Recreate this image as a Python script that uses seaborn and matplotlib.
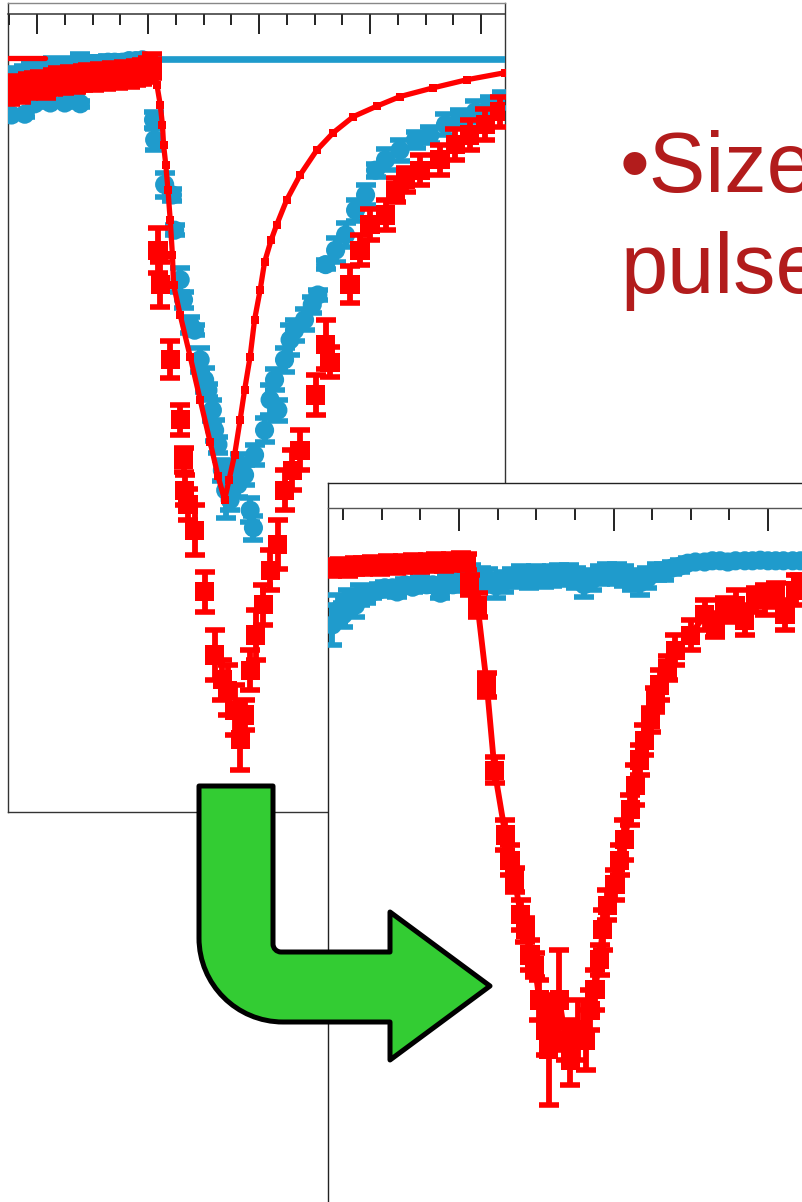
import matplotlib
matplotlib.use("Agg")
import matplotlib.pyplot as plt
import pandas as pd
import seaborn as sns
from matplotlib.patches import PathPatch
from matplotlib.path import Path
from matplotlib.ticker import MultipleLocator, NullLocator

W, H = 802, 1202
RED = "#ff0000"
BLUE = "#1f9bcc"
GREEN = "#33cc33"
TEXT_RED = "#b21c1c"

# ---- upper panel (delay in ps, normalised signal) ----
red1_pre_t = [-1.24, -1.19, -1.14, -1.08, -1.03, -0.97, -0.92, -0.86, -0.81, -0.76, -0.70, -0.65, -0.59,
              -0.54, -0.49, -0.43, -0.38, -0.32, -0.27, -0.22, -0.16, -0.11, -0.05, 0.00, 0.04]
red1_pre_s = [0.959, 0.964, 0.961, 0.966, 0.968, 0.969, 0.966, 0.971, 0.974, 0.973, 0.975, 0.974, 0.976,
              0.978, 0.976, 0.979, 0.978, 0.980, 0.979, 0.981, 0.980, 0.983, 0.984, 0.986, 0.991]
red1_pre_err = [0.015, 0.015, 0.015, 0.015, 0.015, 0.015, 0.015, 0.015, 0.015, 0.015, 0.015, 0.015, 0.015,
                0.015, 0.015, 0.015, 0.015, 0.015, 0.015, 0.015, 0.015, 0.015, 0.015, 0.015, 0.015]

red1_dip_t = [0.09, 0.11, 0.20, 0.29, 0.32, 0.33, 0.36, 0.42, 0.51, 0.60, 0.67, 0.72, 0.78, 0.83, 0.87,
              0.92, 0.97, 1.04, 1.10, 1.17, 1.23, 1.30, 1.37, 1.51, 1.60, 1.64, 1.82, 1.91, 2.00, 2.14,
              2.23, 2.32, 2.45, 2.63, 2.77, 2.90, 3.04, 3.17]
red1_dip_s = [0.761, 0.718, 0.624, 0.549, 0.499, 0.461, 0.443, 0.411, 0.334, 0.255, 0.224, 0.211, 0.186,
              0.149, 0.180, 0.236, 0.280, 0.318, 0.361, 0.393, 0.461, 0.486, 0.511, 0.580, 0.643, 0.621,
              0.718, 0.761, 0.793, 0.805, 0.836, 0.849, 0.861, 0.874, 0.893, 0.905, 0.918, 0.934]
red1_dip_err = [0.028, 0.028, 0.023, 0.019, 0.015, 0.019, 0.019, 0.031, 0.025, 0.031, 0.025, 0.031, 0.031,
                0.038, 0.019, 0.025, 0.031, 0.025, 0.025, 0.031, 0.025, 0.025, 0.025, 0.025, 0.031, 0.019,
                0.023, 0.019, 0.019, 0.019, 0.015, 0.015, 0.019, 0.019, 0.019, 0.019, 0.019, 0.019]

blue1_pre_t = [-1.24, -1.18, -1.12, -1.05, -0.99, -0.93, -0.86, -0.80, -0.74, -0.68, -0.61, -0.55, -0.49,
               -0.42, -0.36, -0.30, -0.23, -0.17, -0.11, -0.05,
               -1.23, -1.11, -1.02, -0.88, -0.75, -0.61, -0.72, -0.66]
blue1_pre_s = [0.974, 0.979, 0.981, 0.983, 0.984, 0.986, 0.988, 0.989, 0.990, 0.991, 0.993, 0.994, 0.994,
               0.995, 0.996, 0.996, 0.996, 0.998, 0.998, 0.999,
               0.930, 0.931, 0.944, 0.945, 0.945, 0.944, 0.961, 0.961]
blue1_pre_err = [0.013, 0.010, 0.010, 0.013, 0.010, 0.010, 0.013, 0.010, 0.010, 0.010, 0.013, 0.008, 0.008,
                 0.008, 0.008, 0.008, 0.008, 0.006, 0.006, 0.006,
                 0.004, 0.004, 0.004, 0.004, 0.004, 0.004, 0.004, 0.004]

blue1_dip_t = [0.05, 0.06, 0.15, 0.22, 0.24, 0.29, 0.32, 0.38, 0.42, 0.47, 0.51, 0.54, 0.58, 0.60, 0.63,
               0.67, 0.70, 0.74, 0.81, 0.87, 0.92, 0.95, 0.83, 0.96, 1.05, 1.10, 1.14, 1.17, 1.23, 1.28,
               1.32, 1.41, 1.48, 1.53, 1.60, 1.69, 1.78, 1.87, 1.96, 2.05, 2.14, 2.27, 2.41, 2.54, 2.68,
               2.81, 2.95, 3.08, 3.19]
blue1_dip_s = [0.924, 0.899, 0.843, 0.830, 0.786, 0.724, 0.699, 0.668, 0.661, 0.624, 0.599, 0.586, 0.561,
               0.536, 0.518, 0.486, 0.461, 0.449, 0.468, 0.480, 0.436, 0.414, 0.493, 0.505, 0.536, 0.574,
               0.599, 0.561, 0.624, 0.649, 0.661, 0.674, 0.693, 0.705, 0.743, 0.761, 0.780, 0.811, 0.830,
               0.861, 0.874, 0.886, 0.899, 0.905, 0.918, 0.926, 0.934, 0.943, 0.949]
blue1_dip_err = [0.010, 0.013, 0.015, 0.008, 0.006, 0.015, 0.010, 0.010, 0.006, 0.015, 0.015, 0.008, 0.013,
                 0.013, 0.010, 0.013, 0.035, 0.013, 0.015, 0.013, 0.015, 0.015, 0.013, 0.013, 0.015, 0.019,
                 0.013, 0.013, 0.015, 0.019, 0.013, 0.013, 0.010, 0.006, 0.006, 0.015, 0.015, 0.013, 0.013,
                 0.008, 0.013, 0.013, 0.010, 0.010, 0.013, 0.010, 0.013, 0.010, 0.010]

model1_t = [0.04, 0.08, 0.11, 0.13, 0.14, 0.16, 0.18, 0.20, 0.22, 0.23, 0.29, 0.38, 0.47, 0.56, 0.63, 0.69,
            0.73, 0.78, 0.83, 0.87, 0.92, 0.96, 1.01, 1.05, 1.11, 1.16, 1.25, 1.37, 1.52, 1.67, 1.85, 2.06,
            2.27, 2.57, 2.87, 3.22]
model1_s = [0.999, 0.968, 0.943, 0.918, 0.893, 0.868, 0.836, 0.799, 0.755, 0.718, 0.680, 0.628, 0.574,
            0.521, 0.479, 0.449, 0.474, 0.505, 0.549, 0.586, 0.628, 0.674, 0.711, 0.746, 0.774, 0.793,
            0.824, 0.855, 0.886, 0.908, 0.928, 0.941, 0.953, 0.964, 0.974, 0.983]

red1_ref_t = [-1.26, -0.93]
red1_ref_s = [1.001, 1.001]
blue1_ref_t = [-0.05, 3.22]
blue1_ref_s = [1.0, 1.0]

# ---- lower panel ----
red2_pre_t = [-0.82, -0.77, -0.72, -0.67, -0.62, -0.56, -0.51, -0.46, -0.41, -0.36, -0.30, -0.25, -0.20,
              -0.15, -0.10, -0.05, 0.01, 0.05]
red2_pre_s = [0.995, 0.997, 0.995, 0.998, 0.998, 1.000, 0.998, 1.002, 1.000, 1.002, 1.003, 1.002, 1.003,
              1.005, 1.003, 1.005, 1.007, 1.005]
red2_pre_err = [0.013, 0.013, 0.013, 0.013, 0.013, 0.013, 0.013, 0.013, 0.013, 0.013, 0.013, 0.013, 0.013,
                0.013, 0.013, 0.013, 0.013, 0.013]

red2_dip_t = [0.07, 0.12, 0.18, 0.23, 0.30, 0.33, 0.36, 0.40, 0.43, 0.46, 0.49, 0.52, 0.56, 0.58, 0.62,
              0.65, 0.69, 0.72, 0.77, 0.82, 0.85, 0.88, 0.91, 0.93, 0.96, 1.01, 1.04, 1.07, 1.11, 1.14,
              1.17, 1.20, 1.24, 1.27, 1.30, 1.35, 1.40, 1.50, 1.59, 1.66, 1.72, 1.79, 1.85, 1.92, 1.98,
              2.05, 2.11, 2.18, 2.21]
red2_dip_s = [0.967, 0.933, 0.800, 0.658, 0.550, 0.508, 0.475, 0.417, 0.392, 0.350, 0.333, 0.275, 0.225,
              0.192, 0.242, 0.275, 0.208, 0.175, 0.225, 0.208, 0.258, 0.292, 0.342, 0.392, 0.433, 0.467,
              0.508, 0.542, 0.592, 0.633, 0.675, 0.708, 0.742, 0.775, 0.800, 0.828, 0.858, 0.883, 0.917,
              0.900, 0.925, 0.933, 0.908, 0.942, 0.942, 0.950, 0.917, 0.958, 0.967]
red2_dip_err = [0.017, 0.020, 0.020, 0.022, 0.025, 0.025, 0.020, 0.025, 0.020, 0.025, 0.020, 0.033, 0.042,
                0.092, 0.033, 0.083, 0.033, 0.042, 0.050, 0.050, 0.033, 0.033, 0.025, 0.033, 0.025, 0.025,
                0.025, 0.033, 0.025, 0.033, 0.025, 0.025, 0.020, 0.020, 0.025, 0.020, 0.025, 0.025, 0.025,
                0.020, 0.020, 0.025, 0.025, 0.020, 0.025, 0.020, 0.025, 0.025, 0.017]

blue2_pre_t = [-0.82, -0.78, -0.75, -0.72, -0.67, -0.64, -0.60, -0.56, -0.52, -0.48, -0.43, -0.40, -0.35,
               -0.30, -0.25, -0.21, -0.17, -0.12, -0.08, -0.04, 0.01, 0.05]
blue2_pre_s = [0.900, 0.925, 0.917, 0.942, 0.933, 0.950, 0.950, 0.955, 0.958, 0.962, 0.962, 0.955, 0.967,
               0.963, 0.972, 0.967, 0.967, 0.953, 0.975, 0.967, 0.978, 0.983]
blue2_pre_err = [0.033, 0.025, 0.020, 0.017, 0.020, 0.017, 0.013, 0.010, 0.010, 0.010, 0.008, 0.008, 0.010,
                 0.008, 0.008, 0.008, 0.010, 0.008, 0.008, 0.010, 0.010, 0.010]

blue2_post_t = [0.08, 0.14, 0.19, 0.24, 0.29, 0.34, 0.40, 0.45, 0.50, 0.55, 0.60, 0.65, 0.71, 0.76, 0.81,
                0.86, 0.91, 0.96, 1.02, 1.07, 1.12, 1.17, 1.22, 1.28, 1.33, 1.38, 1.43, 1.48, 1.53, 1.59,
                1.64, 1.69, 1.74, 1.79, 1.85, 1.90, 1.95, 2.00, 2.05, 2.10, 2.16, 2.21]
blue2_post_s = [0.983, 0.978, 0.975, 0.965, 0.972, 0.978, 0.982, 0.978, 0.983, 0.980, 0.982, 0.985, 0.983,
                0.978, 0.967, 0.975, 0.983, 0.987, 0.985, 0.982, 0.975, 0.970, 0.978, 0.988, 0.988, 0.995,
                0.998, 1.003, 1.005, 1.005, 1.007, 1.007, 1.005, 1.007, 1.007, 1.007, 1.008, 1.007, 1.007,
                1.007, 1.007, 1.007]
blue2_post_err = [0.017, 0.017, 0.018, 0.020, 0.017, 0.015, 0.017, 0.017, 0.015, 0.017, 0.017, 0.015, 0.017,
                  0.017, 0.020, 0.017, 0.015, 0.015, 0.017, 0.017, 0.017, 0.020, 0.017, 0.013, 0.013, 0.010,
                  0.010, 0.008, 0.008, 0.008, 0.008, 0.008, 0.008, 0.008, 0.008, 0.008, 0.008, 0.008, 0.008,
                  0.008, 0.008, 0.008]

slide_lines = ["\u2022Size", "pulse"]


def px_box(left, top, right, bottom):
    return [left / W, 1 - bottom / H, (right - left) / W, (bottom - top) / H]


def points(ax, t, s, err, color, marker, size, z):
    df = pd.DataFrame({"t": t, "s": s, "err": err})
    ax.errorbar(df["t"], df["s"], yerr=df["err"], fmt="none", ecolor=color,
                elinewidth=4.2, capsize=7, capthick=4.0, zorder=z)
    sns.scatterplot(data=df, x="t", y="s", marker=marker, s=size, color=color,
                    edgecolor="none", linewidth=0, ax=ax, legend=False, zorder=z)


def style_axis(ax, major_len, minor_len):
    ax.xaxis.set_major_locator(MultipleLocator(1))
    ax.xaxis.set_minor_locator(MultipleLocator(0.25))
    ax.yaxis.set_major_locator(NullLocator())
    ax.tick_params(axis="x", which="both", direction="in", top=True, bottom=False,
                   labeltop=False, labelbottom=False, color="#222222", width=1.4)
    ax.tick_params(axis="x", which="major", length=major_len)
    ax.tick_params(axis="x", which="minor", length=minor_len)
    ax.set_xlabel("")
    ax.set_ylabel("")
    ax.patch.set_visible(False)


sns.set_style("white")
plt.rcParams["font.family"] = ["Liberation Sans", "DejaVu Sans"]

fig = plt.figure(figsize=(W / 100, H / 100), dpi=100)
fig.patch.set_facecolor("white")

# frame of the upper picture
fr1 = fig.add_axes(px_box(8, 3, 505, 812), zorder=1)
fr1.set_xticks([])
fr1.set_yticks([])
for side, sp in fr1.spines.items():
    sp.set_color("#888888" if side == "top" else "#333333")
    sp.set_linewidth(1.0)

ax1 = fig.add_axes(px_box(8, 14, 505, 812), zorder=2)
sns.lineplot(x=blue1_ref_t, y=blue1_ref_s, color=BLUE, lw=4.8, ax=ax1, zorder=1)
points(ax1, blue1_pre_t + blue1_dip_t, blue1_pre_s + blue1_dip_s, blue1_pre_err + blue1_dip_err,
       BLUE, "o", 190, 2)
points(ax1, red1_pre_t + red1_dip_t, red1_pre_s + red1_dip_s, red1_pre_err + red1_dip_err,
       RED, "s", 190, 3)
sns.lineplot(x=model1_t, y=model1_s, sort=False, estimator=None, color=RED, lw=3.8,
             marker="s", markersize=6, markeredgewidth=0, ax=ax1, zorder=4)
sns.lineplot(x=red1_ref_t, y=red1_ref_s, color=RED, lw=3.8, ax=ax1, zorder=4)
ax1.set_xlim((8 - 148) / 111, (505 - 148) / 111)
ax1.set_ylim(1 - (812 - 59) / 800, 1 - (14 - 59) / 800)
style_axis(ax1, 14.4, 8.0)
for side in ["left", "right", "bottom"]:
    ax1.spines[side].set_visible(False)
ax1.spines["top"].set_color("#333333")
ax1.spines["top"].set_linewidth(1.1)

# frame of the lower picture (covers the upper one)
fr2 = fig.add_axes(px_box(328, 483, 900, 1300), zorder=3)
fr2.set_facecolor("white")
fr2.set_xticks([])
fr2.set_yticks([])
for sp in fr2.spines.values():
    sp.set_color("#222222")
    sp.set_linewidth(1.0)

ax2 = fig.add_axes(px_box(328, 508, 900, 1300), zorder=4)
points(ax2, blue2_pre_t + blue2_post_t, blue2_pre_s + blue2_post_s, blue2_pre_err + blue2_post_err,
       BLUE, "o", 190, 2)
sns.lineplot(x=red2_pre_t + red2_dip_t, y=red2_pre_s + red2_dip_s, sort=False, estimator=None,
             color=RED, lw=4.2, ax=ax2, zorder=3)
points(ax2, red2_pre_t + red2_dip_t, red2_pre_s + red2_dip_s, red2_pre_err + red2_dip_err,
       RED, "s", 190, 3)
ax2.set_xlim((328 - 459) / 154.5, (900 - 459) / 154.5)
ax2.set_ylim(1 - (1300 - 565) / 600, 1 - (508 - 565) / 600)
style_axis(ax2, 16.6, 8.6)
for side in ["left", "right", "bottom"]:
    ax2.spines[side].set_visible(False)
ax2.spines["top"].set_color("#555555")
ax2.spines["top"].set_linewidth(1.0)

# overlay: bent arrow and slide text
ov = fig.add_axes([0, 0, 1, 1], zorder=5)
ov.set_xlim(0, W)
ov.set_ylim(H, 0)
ov.axis("off")
ov.patch.set_visible(False)

verts = [(199, 786), (273, 786), (273, 944),
         (273, 948.4), (276.6, 952), (281, 952),
         (390, 952), (390, 912), (490, 986), (390, 1060), (390, 1022), (283, 1022),
         (236.6, 1022), (199, 984.4), (199, 938),
         (199, 786)]
codes = [Path.MOVETO, Path.LINETO, Path.LINETO,
         Path.CURVE4, Path.CURVE4, Path.CURVE4,
         Path.LINETO, Path.LINETO, Path.LINETO, Path.LINETO, Path.LINETO, Path.LINETO,
         Path.CURVE4, Path.CURVE4, Path.CURVE4,
         Path.CLOSEPOLY]
ov.add_patch(PathPatch(Path(verts, codes), facecolor=GREEN, edgecolor="black",
                       lw=3.6, joinstyle="round"))

ov.text(620, 192, slide_lines[0], fontsize=61, color=TEXT_RED, ha="left", va="baseline")
ov.text(620, 293, slide_lines[1], fontsize=61, color=TEXT_RED, ha="left", va="baseline")

fig.savefig("out.png", dpi=100)
